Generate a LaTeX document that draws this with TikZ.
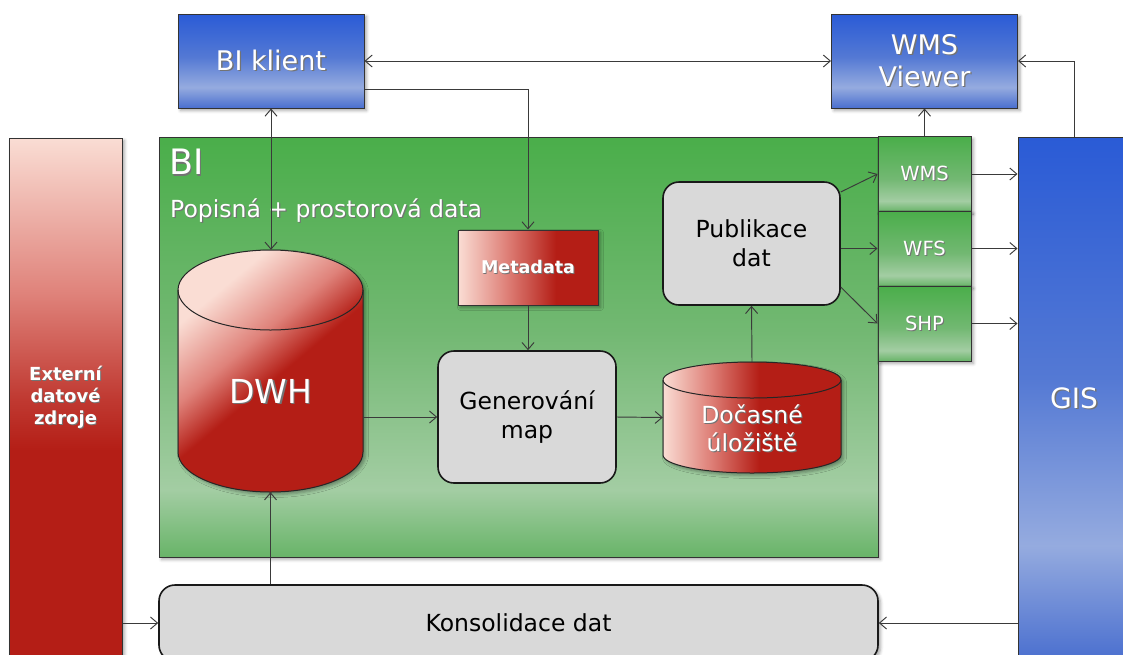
\documentclass[tikz,border=0pt]{standalone}
\usepackage{fontspec}
\setmainfont{DejaVu Sans}
\usetikzlibrary{arrows.meta,shadows.blur}

\definecolor{blueTop}{HTML}{2A5BD6}
\definecolor{blueMid}{HTML}{5479D4}
\definecolor{blueLight}{HTML}{95ABDF}
\definecolor{blueBot}{HTML}{4A6FCF}
\definecolor{greenTop}{HTML}{4AAE4A}
\definecolor{greenMid}{HTML}{72B872}
\definecolor{greenLight}{HTML}{A3CDA3}
\definecolor{greenBot}{HTML}{68B468}
\definecolor{redDark}{HTML}{B41E16}
\definecolor{redMid}{HTML}{C03A32}
\definecolor{redSoft}{HTML}{DF827A}
\definecolor{pinkLight}{HTML}{FADDD4}
\definecolor{boxGray}{HTML}{D9D9D9}
\definecolor{lineGray}{HTML}{3A3A3A}

% shadings: the path's bounding box maps onto 25bp..75bp
\pgfdeclareverticalshading{blueS}{100bp}{color(0bp)=(blueBot); color(25bp)=(blueBot); color(36bp)=(blueLight); color(52bp)=(blueMid); color(75bp)=(blueTop); color(100bp)=(blueTop)}
\pgfdeclareverticalshading{greenS}{100bp}{color(0bp)=(greenBot); color(25bp)=(greenBot); color(33bp)=(greenLight); color(52bp)=(greenMid); color(75bp)=(greenTop); color(100bp)=(greenTop)}
\pgfdeclareverticalshading{greenT}{100bp}{color(0bp)=(greenBot); color(25bp)=(greenBot); color(32bp)=(greenLight); color(47bp)=(greenMid); color(75bp)=(greenTop); color(100bp)=(greenTop)}
\pgfdeclareverticalshading{redV}{100bp}{color(0bp)=(redDark); color(45bp)=(redDark); color(50bp)=(redMid); color(60bp)=(redSoft); color(75bp)=(pinkLight); color(100bp)=(pinkLight)}
\pgfdeclareverticalshading{redDiag}{100bp}{color(0bp)=(redDark); color(48bp)=(redDark); color(58bp)=(redSoft); color(72bp)=(pinkLight); color(100bp)=(pinkLight)}
\pgfdeclarehorizontalshading{redH}{100bp}{color(0bp)=(pinkLight); color(25bp)=(pinkLight); color(42bp)=(redSoft); color(60bp)=(redDark); color(100bp)=(redDark)}
\pgfdeclarehorizontalshading{redHc}{100bp}{color(0bp)=(pinkLight); color(25bp)=(pinkLight); color(38bp)=(redSoft); color(52bp)=(redDark); color(100bp)=(redDark)}

\newcommand\fsz[2]{\fontsize{#1pt}{#2pt}\selectfont}
\newcommand\shtx[1]{\leavevmode\rlap{\kern0.05em\raisebox{-0.05em}{\textcolor{black!55}{#1}}}#1}

\tikzset{
  softshadow/.style={blur shadow={shadow xshift=2.5pt, shadow yshift=-2.5pt, shadow blur radius=3pt, shadow opacity=35}},
  box/.style={draw=black!80, line width=1pt, inner sep=0pt, align=center},
  bluebox/.style={box, softshadow, shading=blueS, text=white, minimum width=186pt, minimum height=94pt, font=\fsz{27}{32}},
  smallgreen/.style={box, softshadow, shading=greenT, text=white, minimum width=93pt, minimum height=75pt, font=\fsz{19.5}{23}},
  graybox/.style={draw=black!90, line width=1.6pt, rounded corners=16pt, fill=boxGray, inner sep=0pt, align=center, font=\fsz{23.5}{29}},
  redbody/.style={draw=black!85, line width=1pt, softshadow},
  conn/.style={draw=lineGray, line width=0.95pt},
  >={Straight Barb[length=7pt,width=12pt]}
}

\begin{document}
\begin{tikzpicture}[x=1pt,y=-1pt]
\useasboundingbox (0,0) rectangle (1123,654);

% BI area and its output formats
\node[box, softshadow, shading=greenS, minimum width=719pt, minimum height=420pt] (bi) at (518.5,347) {};
\node[text=white, anchor=west, inner sep=0pt, font=\fsz{35}{40}] (bititle) at (169,163) {\shtx{BI}};
\node[text=white, anchor=west, inner sep=0pt, font=\fsz{23.5}{28}] (bisub) at (170,211) {\shtx{Popisná + prostorová data}};
\node[smallgreen] (wms) at (924.5,174) {\shtx{WMS}};
\node[smallgreen] (wfs) at (924.5,248.5) {\shtx{WFS}};
\node[smallgreen] (shp) at (924.5,323.5) {\shtx{SHP}};

% clients
\node[bluebox] (bik) at (271,61) {\shtx{BI klient}};
\node[bluebox] (viewer) at (924.5,61) {\shtx{WMS}\\\shtx{Viewer}};

% side columns
\node[box, softshadow, shading=redV, text=white, minimum width=113pt, minimum height=520pt, font=\bfseries\fsz{18}{22}] (ext) at (65.5,398) {\shtx{Externí}\\\shtx{datové}\\\shtx{zdroje}};
\node[box, shading=blueS, text=white, minimum width=112pt, minimum height=524pt, font=\fsz{28}{33}] (gis) at (1074,399) {\shtx{GIS}};

% consolidation
\node[graybox, softshadow, minimum width=719pt, minimum height=76pt] (kons) at (518.5,623) {Konsolidace dat};

% data warehouse cylinder
\node[inner sep=0pt, minimum width=185pt, minimum height=242pt] (dwh) at (270.5,371) {};
\path[redbody, shading=redDiag, shading angle=40]
  (178,290) -- (178,452) arc[start angle=180, end angle=0, x radius=92.5, y radius=40]
  -- (363,290) arc[start angle=0, end angle=-180, x radius=92.5, y radius=40] -- cycle;
\draw[draw=black!85, line width=1pt] (178,290) arc[start angle=180, end angle=0, x radius=92.5, y radius=40];
\node[text=white, inner sep=0pt, font=\fsz{33}{38}] (dwhlabel) at (270.5,392) {\shtx{DWH}};

% metadata and processing
\node[box, softshadow, shading=redH, text=white, minimum width=140pt, minimum height=75pt, font=\bfseries\fsz{17.5}{20}] (meta) at (528,267.5) {\shtx{Metadata}};
\node[graybox, minimum width=178pt, minimum height=132pt] (gen) at (527,417) {Generování\\map};
\node[graybox, minimum width=177pt, minimum height=123pt] (pub) at (751.5,243.5) {Publikace\\dat};

% temporary storage cylinder
\node[inner sep=0pt, minimum width=178pt, minimum height=111pt] (doc) at (752,417.5) {};
\path[redbody, shading=redHc]
  (663,380) -- (663,455) arc[start angle=180, end angle=0, x radius=89, y radius=18]
  -- (841,380) arc[start angle=0, end angle=-180, x radius=89, y radius=18] -- cycle;
\draw[draw=black!85, line width=1pt] (663,380) arc[start angle=180, end angle=0, x radius=89, y radius=18];
\node[text=white, inner sep=0pt, font=\fsz{23.5}{28}, align=center] (doclabel) at (752,429) {\shtx{Dočasné}\\\shtx{úložiště}};

% connectors
\draw[conn, <->] (bik.east) -- (viewer.west);
\draw[conn, ->] ([yshift=-28pt]bik.east) -| (meta.north);
\draw[conn, <->] (bik.south) -- (bik.south |- dwh.north);
\draw[conn, ->] (dwh.south |- kons.north) -- (dwh.south);
\draw[conn, ->] (gen.west -| dwh.east) -- (gen.west);
\draw[conn, ->] (meta.south) -- (meta.south |- gen.north);
\draw[conn, ->] (gen.east) -- (doc.west);
\draw[conn, ->] (doc.north) -- (pub.south);
\draw[conn, ->] (pub.30) -- (wms.west);
\draw[conn, ->] (pub.east |- wfs.west) -- (wfs.west);
\draw[conn, ->] (pub.-26) -- (shp.west);
\draw[conn, ->] (wms.north) -- (viewer.south);
\draw[conn, ->] (wms.east) -- (wms.east -| gis.west);
\draw[conn, ->] (wfs.east) -- (wfs.east -| gis.west);
\draw[conn, ->] (shp.east) -- (shp.east -| gis.west);
\draw[conn, ->] (gis.north) |- (viewer.east);
\draw[conn, ->] (kons.west -| ext.east) -- (kons.west);
\draw[conn, ->] (kons.east -| gis.west) -- (kons.east);
\end{tikzpicture}
\end{document}
